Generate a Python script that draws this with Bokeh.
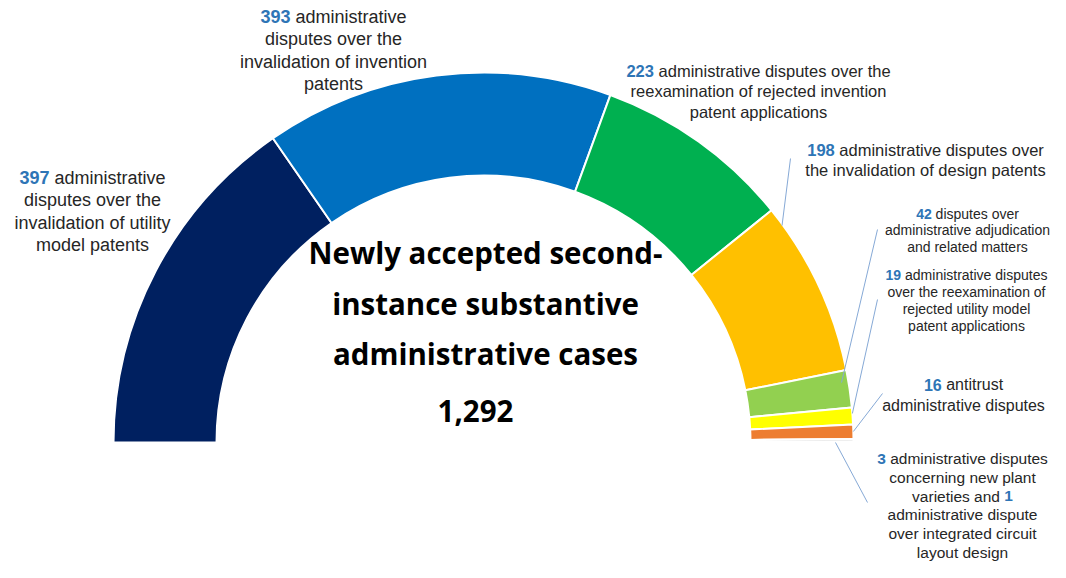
import numpy as np
from bokeh.plotting import figure
from bokeh.models import Range1d, ColumnDataSource
from bokeh.embed import file_html
from bokeh.resources import INLINE
from bokeh.core.properties import value

# ---------------- data ----------------
categories = [
    "Invalidation of utility model patents",
    "Invalidation of invention patents",
    "Reexamination of rejected invention patent applications",
    "Invalidation of design patents",
    "Administrative adjudication and related matters",
    "Reexamination of rejected utility model patent applications",
    "Antitrust",
    "New plant varieties",
    "Integrated circuit layout design",
]
counts = [397, 393, 223, 198, 42, 19, 16, 3, 1]
colors = ["#002060", "#0070C0", "#00B050", "#FFC000", "#92D050",
          "#FFFF00", "#ED7D31", "#BFBFBF", "#9DC3E6"]
total_label = "1,292"
title_lines = ["Newly accepted second-", "instance substantive", "administrative cases"]

label_numbers = ["397", "393", "223", "198", "42", "19", "16", "3"]
label_first = ["administrative", "administrative",
               "administrative disputes over the", "administrative disputes over",
               "disputes over", "administrative disputes", "antitrust",
               "administrative disputes"]
label_more = [
    ["disputes over the", "invalidation of utility", "model patents"],
    ["disputes over the", "invalidation of invention", "patents"],
    ["reexamination of rejected invention", "patent applications"],
    ["the invalidation of design patents"],
    ["administrative adjudication", "and related matters"],
    ["over the reexamination of", "rejected utility model", "patent applications"],
    ["administrative disputes"],
    ["concerning new plant", ("varieties and ", "1"), "administrative dispute",
     "over integrated circuit", "layout design"],
]

# ---------------- layout (image pixel coords, y down) ----------------
W, H = 1050, 562
CX, CY = 483, 442
R_OUT, R_IN = 370, 267
NUM_COLOR = "#2E75B6"
TXT_COLOR = "#262626"
LEAD_COLOR = "#86A9D6"
FONT = "Liberation Sans"

# per label: center_x, first_y, line_step, font_px
label_layout = [
    (92, 177, 22.5, 18),
    (333, 16, 22.5, 18),
    (758, 70, 20.5, 16.5),
    (925, 149, 20.5, 16.5),
    (967, 213, 16.8, 14),
    (966, 274, 17, 14),
    (963, 384, 20.5, 16),
    (962, 458, 18.8, 15.5),
]
# leader lines: (start angle deg, start radius, end x, end y)
leaders = [
    (36.0, 369, 790, 158),
    (9.5, 363, 877, 229),
    (4.5, 370, 877, 299),
    (1.7, 370, 882, 393),
    (0.0, 352, 867, 502),
]

# Arial / Liberation Sans advance widths (per em)
_AW = dict(a=.556, b=.556, c=.5, d=.556, e=.556, f=.278, g=.556, h=.556, i=.222,
           j=.222, k=.5, l=.222, m=.833, n=.556, o=.556, p=.556, q=.556, r=.333,
           s=.5, t=.278, u=.556, v=.5, w=.722, x=.5, y=.5, z=.5)


def tw(s, fs):
    return sum(_AW.get(ch, .556 if ch.isdigit() else .278) for ch in s) * fs


def Y(v):
    return H - v


p = figure(width=W, height=H, output_backend="svg", toolbar_location=None,
           x_range=Range1d(0, W), y_range=Range1d(0, H), min_border=0)
p.axis.visible = False
p.grid.visible = False
p.outline_line_color = None
p.background_fill_color = "white"
p.border_fill_color = "white"

# ---------------- half donut ----------------
vals = np.array(counts, dtype=float)
cum = np.cumsum(vals)
tot = vals.sum()
end_ang = np.pi * (1 - (cum - vals) / tot)
start_ang = np.pi * (1 - cum / tot)
src = ColumnDataSource(dict(cat=categories, v=counts, s=start_ang, e=end_ang, c=colors))
p.annular_wedge(x=CX, y=Y(CY), inner_radius=R_IN, outer_radius=R_OUT,
                start_angle="s", end_angle="e", fill_color="c",
                line_color="white", line_width=2, source=src)

# ---------------- leader lines ----------------
for ang, r, ex, ey in leaders:
    a = np.deg2rad(ang)
    sx = CX + r * np.cos(a)
    sy = Y(CY) + r * np.sin(a)
    p.line([sx, ex], [sy, Y(ey)], line_color=LEAD_COLOR, line_width=1)


def put(x, y, s, fs, bold=False, color=TXT_COLOR, align="left"):
    p.text(x=[x], y=[y], text=[s], text_font=value(FONT), text_font_size=f"{fs}px",
           text_font_style="bold" if bold else "normal", text_color=color,
           text_align=align, text_baseline="middle")


def mixed(cx, y, parts, fs):
    # parts: list of (text, is_number); centred as a whole
    total = sum(tw(t, fs) for t, _ in parts)
    left = cx - total / 2
    for t, isnum in parts:
        if t.strip():
            put(left, y, t, fs, bold=isnum, color=NUM_COLOR if isnum else TXT_COLOR)
        left += tw(t, fs)


# ---------------- labels ----------------
for i, num in enumerate(label_numbers):
    cx, y0, step, fs = label_layout[i]
    mixed(cx, Y(y0), [(num, True), (" ", False), (label_first[i], False)], fs)
    for j, line in enumerate(label_more[i]):
        yy = Y(y0 + (j + 1) * step)
        if isinstance(line, tuple):
            mixed(cx, yy, [(line[0], False), (line[1], True)], fs)
        else:
            put(cx, yy, line, fs, align="center")

# ---------------- centre title ----------------
title_y = [252, 303, 353]
for t, ty in zip(title_lines, title_y):
    p.text(x=[485], y=[Y(ty)], text=[t], text_font=value("Open Sans"),
           text_font_size="29.5px", text_font_style="bold", text_color="black",
           text_align="center", text_baseline="middle")
p.text(x=[475], y=[Y(410)], text=[total_label], text_font=value("Open Sans"),
       text_font_size="29.5px", text_font_style="bold", text_color="black",
       text_align="center", text_baseline="middle")

open("out.html", "w").write(file_html(p, INLINE))
